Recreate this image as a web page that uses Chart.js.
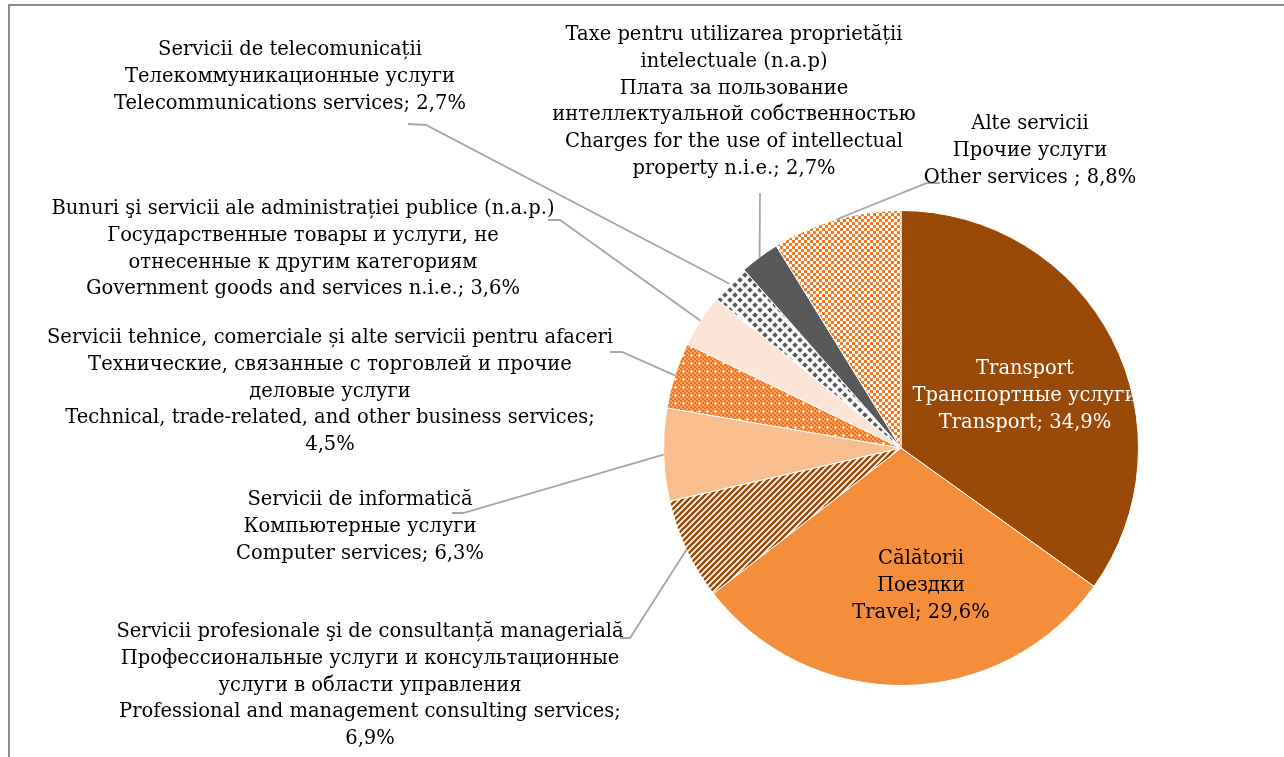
<!DOCTYPE html>
<html>
<head>
<meta charset="utf-8">
<script src="https://cdn.jsdelivr.net/npm/chart.js@4"></script>
<style>
  body { margin: 0; background: #fff; overflow: hidden; }
  #frame { position: absolute; left: 8px; top: 4px; width: 1400px; height: 900px; border-left: 2px solid #8a8a8a; border-top: 2px solid #8a8a8a; }
  #grafico { position: absolute; left: 0; top: 0; }
</style>
</head>
<body>
<div id="frame"></div>
<canvas id="grafico" width="1284" height="757"></canvas>
<script>
"use strict";

// shares of services, %, clockwise from 12 o'clock
const categories = [
	["Transport", "Транспортные услуги", "Transport; {v}"],
	["Călătorii", "Поездки", "Travel; {v}"],
	["Servicii profesionale şi de consultanță managerială", "Профессиональные услуги и консультационные", "услуги в области управления", "Professional and management consulting services;", "{v}"],
	["Servicii de informatică", "Компьютерные услуги", "Computer services; {v}"],
	["Servicii tehnice, comerciale și alte servicii pentru afaceri", "Технические, связанные с торговлей и прочие", "деловые услуги", "Technical, trade-related, and other business services;", "{v}"],
	["Bunuri şi servicii ale administrației publice (n.a.p.)", "Государственные товары и услуги, не", "отнесенные к другим категориям", "Government goods and services n.i.e.; {v}"],
	["Servicii de telecomunicații", "Телекоммуникационные услуги", "Telecommunications services; {v}"],
	["Taxe pentru utilizarea proprietății", "intelectuale (n.a.p)", "Плата за пользование", "интеллектуальной собственностью", "Charges for the use of intellectual", "property n.i.e.; {v}"],
	["Alte servicii", "Прочие услуги", "Other services ; {v}"]
];
const shares = [34.9, 29.6, 6.9, 6.3, 4.5, 3.6, 2.7, 2.7, 8.8];

// label placement: centre x, first line y, text colour, leader [x1, y1, elbowX, elbowY]
const labelPos = [
	{ x: 1025, y: 369, color: "#fff", clip: true },
	{ x: 921, y: 559, color: "#000" },
	{ x: 370, y: 632, color: "#000", leader: [620, 638, 630, 638] },
	{ x: 360, y: 500, color: "#000", leader: [452, 513, 463, 513] },
	{ x: 330, y: 338, color: "#000", leader: [610, 352, 622, 352] },
	{ x: 303, y: 209, color: "#000", leader: [548, 220, 560, 220] },
	{ x: 290, y: 50, color: "#000", leader: [408, 124, 426, 125] },
	{ x: 734, y: 35, color: "#000", leader: [760, 193, 760, 193] },
	{ x: 1030, y: 124, color: "#000", leader: [940, 183, 927, 183] }
];
const lineStep = 26.75;
const fontCss = "19.5px 'DejaVu Serif'";

function fmt(v) {
	return v.toFixed(1).replace(".", ",") + "%";
}

function makePattern(size, draw) {
	const c = document.createElement("canvas");
	c.width = size;
	c.height = size;
	const g = c.getContext("2d");
	draw(g, size);
	return g.createPattern(c, "repeat");
}

const ctx = document.getElementById("grafico");

const stripes = makePattern(6, (g, s) => {
	g.fillStyle = "#fff";
	g.fillRect(0, 0, s, s);
	g.strokeStyle = "#9a4a08";
	g.lineWidth = 2.6;
	g.beginPath();
	g.moveTo(-1, s + 1); g.lineTo(s + 1, -1);
	g.moveTo(-1, 1); g.lineTo(1, -1);
	g.moveTo(s - 1, s + 1); g.lineTo(s + 1, s - 1);
	g.stroke();
});
const fineCheck = makePattern(8, (g, s) => {
	g.fillStyle = "#f4a066";
	g.fillRect(0, 0, s, s);
	g.fillStyle = "#ea7624";
	for (let y = 0; y < s; y += 2) {
		for (let x = 0; x < s; x += 2) {
			if (((x + y) / 2) % 2 === 0) g.fillRect(x, y, 2, 2);
		}
	}
	g.fillStyle = "#fff";
	g.fillRect(3, 2, 1, 3);
	g.fillRect(2, 3, 3, 1);
});
const diamonds = makePattern(10, (g, s) => {
	g.fillStyle = "#fff";
	g.fillRect(0, 0, s, s);
	g.fillStyle = "#595959";
	const dia = (cx, cy) => {
		g.beginPath();
		g.moveTo(cx, cy - 2.8); g.lineTo(cx + 2.8, cy); g.lineTo(cx, cy + 2.8); g.lineTo(cx - 2.8, cy);
		g.closePath();
		g.fill();
	};
	dia(0, 0); dia(10, 0); dia(0, 10); dia(10, 10); dia(5, 5);
});
const bigCheck = makePattern(6, (g, s) => {
	g.fillStyle = "#fff";
	g.fillRect(0, 0, s, s);
	g.fillStyle = "#ec7b28";
	g.fillRect(0, 0, 3, 3);
	g.fillRect(3, 3, 3, 3);
});

const fills = ["#9a4a08", "#f48e3a", stripes, "#f9be8f", fineCheck, "#fce4d6", diamonds, "#595959", bigCheck];

const labelPlugin = {
	id: "sliceLabels",
	afterDatasetsDraw(chart) {
		const g = chart.ctx;
		const arcs = chart.getDatasetMeta(0).data;
		g.save();
		g.font = fontCss;
		g.textAlign = "center";
		g.textBaseline = "middle";
		arcs.forEach((arc, i) => {
			const p = arc.getProps(["x", "y", "startAngle", "endAngle", "outerRadius"], true);
			const pos = labelPos[i];
			if (pos.leader) {
				const mid = (p.startAngle + p.endAngle) / 2;
				const ex = p.x + Math.cos(mid) * p.outerRadius;
				const ey = p.y + Math.sin(mid) * p.outerRadius;
				g.strokeStyle = "#a6a6a6";
				g.lineWidth = 1.8;
				g.beginPath();
				g.moveTo(pos.leader[0], pos.leader[1]);
				g.lineTo(pos.leader[2], pos.leader[3]);
				g.lineTo(ex, ey);
				g.stroke();
			}
			g.save();
			if (pos.clip) {
				g.beginPath();
				g.arc(p.x, p.y, p.outerRadius - 1, 0, Math.PI * 2);
				g.clip();
			}
			g.fillStyle = pos.color;
			categories[i].forEach((line, k) => {
				g.fillText(line.replace("{v}", fmt(shares[i])), pos.x, pos.y + k * lineStep);
			});
			g.restore();
		});
		g.restore();
	}
};

let chart1 = new Chart(ctx, {
	type: "pie",
	data: {
		labels: categories.map(c => c[0]),
		datasets: [
			{
				data: shares,
				backgroundColor: fills,
				borderColor: "#fff",
				borderWidth: 1,
			},
		],
	},
	options: {
		responsive: false,
		animation: false,
		layout: {
			padding: { left: 663, right: 145, top: 210, bottom: 71 },
		},
		plugins: {
			legend: { display: false },
			tooltip: { enabled: false },
		},
	},
	plugins: [labelPlugin],
});
</script>
</body>
</html>
